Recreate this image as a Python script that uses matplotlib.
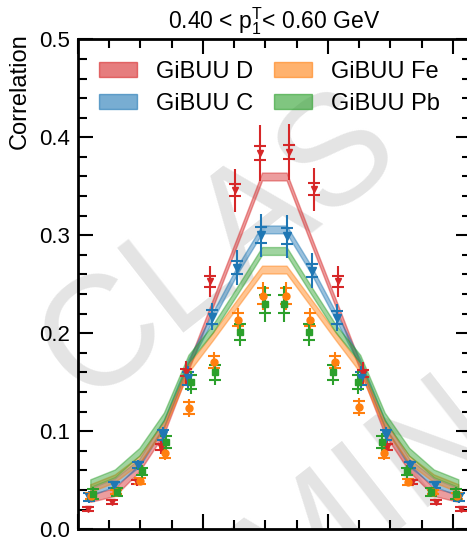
import numpy as np
import matplotlib
matplotlib.use("Agg")
import matplotlib.pyplot as plt
from matplotlib.patches import Patch
from matplotlib.ticker import MultipleLocator

plt.rcParams['font.family'] = ['Liberation Sans', 'DejaVu Sans']
plt.rcParams['mathtext.default'] = 'regular'

# 16 bins in delta-phi from 0 to pi
n_bins = 16
edges = np.linspace(0, np.pi, n_bins + 1)
x = 0.5 * (edges[:-1] + edges[1:])

# data points (value, total error, stat error)
d_val = [0.021, 0.028, 0.048, 0.084, 0.160, 0.253, 0.346, 0.384,
         0.385, 0.347, 0.253, 0.159, 0.084, 0.048, 0.028, 0.021]
d_tot = [0.003, 0.003, 0.004, 0.007, 0.012, 0.016, 0.022, 0.029,
         0.029, 0.022, 0.016, 0.012, 0.007, 0.004, 0.003, 0.003]
d_stat = [0.002, 0.002, 0.002, 0.003, 0.004, 0.0055, 0.006, 0.007,
          0.007, 0.006, 0.0055, 0.004, 0.003, 0.002, 0.002, 0.002]

c_val = [0.033, 0.045, 0.066, 0.096, 0.154, 0.217, 0.267, 0.300,
         0.299, 0.264, 0.216, 0.154, 0.096, 0.066, 0.045, 0.033]
c_tot = [0.006, 0.004, 0.005, 0.008, 0.013, 0.014, 0.018, 0.022,
         0.022, 0.018, 0.014, 0.013, 0.008, 0.005, 0.004, 0.006]
c_stat = [0.004, 0.003, 0.003, 0.005, 0.007, 0.007, 0.007, 0.008,
          0.008, 0.007, 0.007, 0.007, 0.005, 0.003, 0.003, 0.004]

fe_val = [0.034, 0.038, 0.049, 0.078, 0.124, 0.171, 0.214, 0.238,
          0.238, 0.214, 0.171, 0.125, 0.078, 0.048, 0.038, 0.034]
fe_tot = [0.004, 0.003, 0.004, 0.007, 0.009, 0.010, 0.012, 0.014,
          0.014, 0.012, 0.010, 0.009, 0.007, 0.004, 0.003, 0.004]
fe_stat = [0.003, 0.002, 0.003, 0.005, 0.006, 0.006, 0.007, 0.008,
           0.008, 0.007, 0.006, 0.006, 0.005, 0.003, 0.002, 0.003]

pb_val = [0.036, 0.038, 0.059, 0.089, 0.150, 0.160, 0.201, 0.230,
          0.230, 0.201, 0.160, 0.150, 0.089, 0.059, 0.038, 0.036]
pb_tot = [0.007, 0.005, 0.007, 0.009, 0.012, 0.013, 0.014, 0.018,
          0.018, 0.014, 0.013, 0.012, 0.009, 0.007, 0.005, 0.007]
pb_stat = [0.005, 0.004, 0.004, 0.006, 0.007, 0.008, 0.008, 0.009,
           0.009, 0.008, 0.008, 0.007, 0.006, 0.004, 0.004, 0.005]

# GiBUU bands (central value, half width)
gibuu_d = [0.032, 0.038, 0.063, 0.101, 0.166, 0.231, 0.295, 0.360,
           0.360, 0.295, 0.231, 0.166, 0.101, 0.063, 0.038, 0.032]
gibuu_c = [0.038, 0.048, 0.068, 0.108, 0.170, 0.218, 0.265, 0.306,
           0.306, 0.265, 0.218, 0.170, 0.108, 0.068, 0.048, 0.038]
gibuu_fe = [0.042, 0.052, 0.071, 0.106, 0.164, 0.197, 0.231, 0.265,
            0.265, 0.231, 0.197, 0.164, 0.106, 0.071, 0.052, 0.042]
gibuu_pb = [0.047, 0.057, 0.079, 0.115, 0.174, 0.205, 0.244, 0.284,
            0.284, 0.244, 0.205, 0.174, 0.115, 0.079, 0.057, 0.047]
band_hw = 0.004

colors = {'D': '#d62728', 'C': '#1f77b4', 'Fe': '#ff7f0e', 'Pb': '#2ca02c'}

fig = plt.figure(figsize=(4.67, 5.39), dpi=100)
ax = fig.add_axes([78 / 467, 9.7 / 539, 392.6 / 467, 490 / 539])

# watermark
ax.text(0.36, 0.575, 'CLAS', transform=ax.transAxes, rotation=38,
        fontsize=112, color='#e4e4e4', ha='center', va='center', zorder=0)
ax.text(0.61, -0.01, 'PRELIMINARY', transform=ax.transAxes, rotation=38,
        fontsize=110, color='#e4e4e4', ha='center', va='center', zorder=0,
        clip_on=True)

bands = [('D', gibuu_d), ('C', gibuu_c), ('Fe', gibuu_fe), ('Pb', gibuu_pb)]
for name, vals in bands:
    v = np.array(vals)
    ax.fill_between(x, v - band_hw, v + band_hw, facecolor=colors[name],
                    alpha=0.45, edgecolor=colors[name], linewidth=1.0, zorder=2)

side = np.where(x < np.pi / 2, 1, -1)
points = [('D', d_val, d_tot, d_stat, 'v', 4, -0.02),
          ('C', c_val, c_tot, c_stat, 'v', 6, -0.007),
          ('Fe', fe_val, fe_tot, fe_stat, 'o', 5, 0.007),
          ('Pb', pb_val, pb_tot, pb_stat, 's', 5, 0.02)]
for name, val, tot, stat, mk, ms, dx in points:
    xs = x + dx * side
    ax.errorbar(xs, val, yerr=tot, fmt=mk, ms=ms, color=colors[name],
                elinewidth=1.5, capsize=0, zorder=4)
    ax.errorbar(xs, val, yerr=stat, fmt='none', ecolor=colors[name],
                elinewidth=0, capsize=4, capthick=1.5, zorder=4)

ax.set_xlim(0, np.pi)
ax.set_ylim(0, 0.5)
ax.xaxis.set_major_locator(MultipleLocator(1))
ax.xaxis.set_minor_locator(MultipleLocator(0.25))
ax.yaxis.set_major_locator(MultipleLocator(0.1))
ax.yaxis.set_minor_locator(MultipleLocator(0.02))
ax.tick_params(which='both', direction='in', top=True, right=True, width=1.5,
               labelbottom=False, labelsize=16, pad=6)
ax.tick_params(which='major', length=11)
ax.tick_params(which='minor', length=6.5)
for s in ax.spines.values():
    s.set_linewidth(2)
ax.yaxis.set_major_formatter(plt.FuncFormatter(lambda v, p: f'{v:.1f}'))

ax.set_ylabel('Correlation', fontsize=17, loc='top', labelpad=6)
ax.yaxis.label.set_y(1.013)
ax.set_title('0.40 < p$_1^T$< 0.60 GeV', fontsize=16.5, pad=8)

handles = [Patch(facecolor=colors[n], edgecolor=colors[n], alpha=0.6)
           for n in ['D', 'C', 'Fe', 'Pb']]
labels = ['GiBUU D', 'GiBUU C', 'GiBUU Fe', 'GiBUU Pb']
ax.legend(handles, labels, ncol=2, loc='upper left', frameon=False,
          fontsize=17, handlelength=1.6, handleheight=0.6,
          handletextpad=0.8, columnspacing=0.9, labelspacing=0.45,
          bbox_to_anchor=(0.0, 1.0))

fig.savefig('out.png', dpi=100)
